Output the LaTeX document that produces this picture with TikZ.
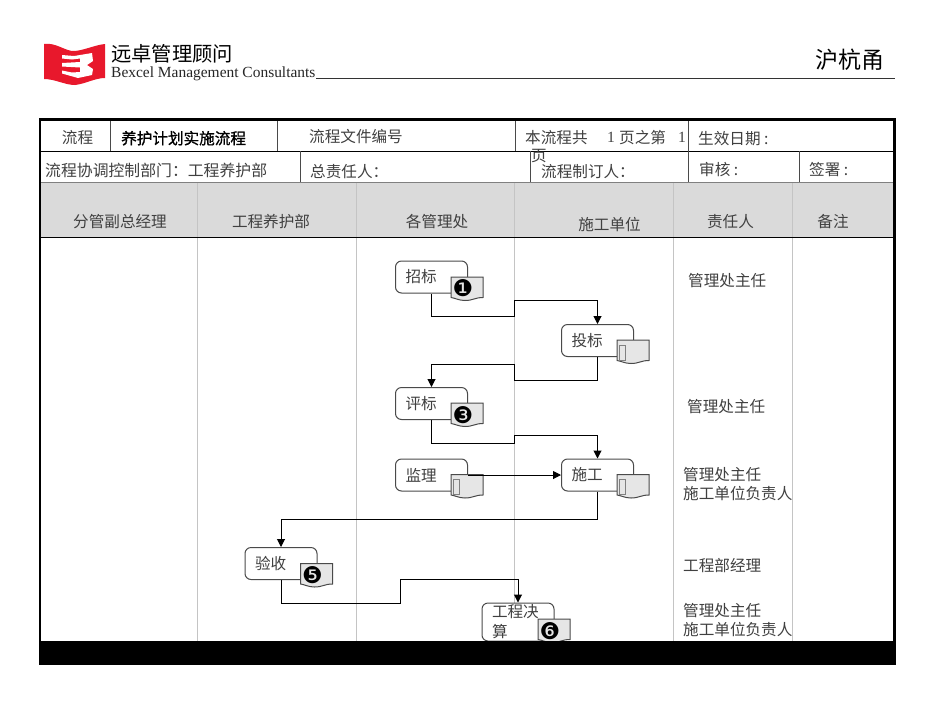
\documentclass[tikz,border=0pt]{standalone}
\usepackage{fontspec}
\setmainfont{Liberation Serif}
\newfontfamily\cjk{Noto Sans CJK SC}
\newfontfamily\djvfont{DejaVu Sans}
\usetikzlibrary{arrows.meta}
\definecolor{hdr}{HTML}{DADADA}
\definecolor{lane}{HTML}{C4C4C4}
\definecolor{docfill}{HTML}{E6E6E6}
\definecolor{linec}{HTML}{4A4A4A}
\definecolor{txt}{HTML}{404040}
\definecolor{logored}{HTML}{E8182C}
\newcommand{\docpath}[2]{%
  \draw[docline,shift={(#1,#2)}] (0,0) -- (32,0) -- (32,20.5) .. controls (24,20.5) and (22,23.5) .. (14,23.5) .. controls (8,23.5) and (4,21) .. (0,20.5) -- cycle;}
\newcommand{\lowered}[1]{\raisebox{-1.3pt}{#1}}
\tikzset{
  x=1pt,y=-1pt,
  txtl/.style={font=\cjk\fontsize{15.6}{17}\selectfont,text=txt,inner sep=0pt,anchor=west,yshift=-0.7pt},
  txtc/.style={font=\cjk\fontsize{15.6}{17}\selectfont,text=txt,inner sep=0pt,anchor=center,yshift=-0.7pt},
  tline/.style={draw=black,line width=1pt},
  laneline/.style={draw=lane,line width=0.9pt},
  procbox/.style={draw=linec,fill=white,rounded corners=6pt,line width=1pt,minimum width=72pt,minimum height=32pt,inner sep=0pt,
    font=\cjk\fontsize{15.6}{20}\selectfont,text=txt,text width=52pt,align=left},
  docline/.style={draw=linec,fill=docfill,line width=1pt},
  badge/.style={font=\djvfont\fontsize{23}{23}\selectfont,inner sep=0pt,text=black},
  tofu/.style={draw=gray,fill=docfill,line width=0.8pt,minimum width=6.5pt,minimum height=15pt,inner sep=0pt},
  flow/.style={draw=black,line width=1pt,rounded corners=0pt},
  flowa/.style={flow,-{Triangle[length=8pt,width=8pt]}},
}
\begin{document}
\begin{tikzpicture}
\useasboundingbox (0,0) rectangle (950,713);
\fill[white] (0,0) rectangle (950,713);
% logo
\fill[logored] (44,44) .. controls (56,42) and (66,52) .. (75,51) .. controls (85,50) and (95,45) .. (105,44) -- (105,78) .. controls (95,78) and (85,84) .. (75,85) .. controls (65,85) and (55,79) .. (44,79) -- cycle;
\fill[white] (62,55) -- (74,56) -- (92,53) -- (93,61) -- (87,65) -- (93,69) -- (92,75) -- (78,78) -- (62,73.5) -- (62,70.5) -- (72,72.5) -- (80,72) -- (80,67.5) -- (62,66.5) -- (62,63) -- (80,62) -- (80,58.5) -- (72,59.5) -- (62,58.5) -- cycle;
\node[font=\cjk\fontsize{20.3}{22}\selectfont,text=black,inner sep=0pt,anchor=west] (logocn) at (111,54) {远卓管理顾问};
\node[font=\fontsize{15.45}{17}\selectfont,text=black!85,inner sep=0pt,anchor=west] (logoen) at (111,73.5) {Bexcel Management Consultants};
\coordinate (rulel) at (316,78.5);
\coordinate (ruler) at (895,78.5);
\draw[draw=black!80,line width=1pt] (rulel) -- (ruler);
\node[font=\cjk\fontsize{23}{25}\selectfont,text=black,inner sep=0pt] (region) at (849.5,60) {沪杭甬};
% header band
\fill[hdr] (40,182) rectangle (893,237);
% lanes
\foreach \lx in {197.5,356,514.5,673,792}{\draw[laneline] (\lx,182) -- (\lx,641);}
% table lines
\draw[tline] (40,151) -- (893,151);
\draw[draw=gray,line width=1pt] (40,182) -- (893,182);
\draw[tline] (40,237.5) -- (893,237.5);
\draw[draw=linec,line width=1pt] (110.5,120) -- (110.5,151);
\draw[draw=linec,line width=1pt] (277,120) -- (277,151);
\draw[draw=linec,line width=1pt] (515,120) -- (515,151);
\draw[draw=linec,line width=1pt] (688.5,120) -- (688.5,182);
\draw[draw=linec,line width=1pt] (300.5,151) -- (300.5,182);
\draw[draw=linec,line width=1pt] (530.5,151) -- (530.5,182);
\draw[draw=linec,line width=1pt] (799,151) -- (799,182);
% table text
\node[txtc] (t1) at (77.5,137) {流程};
\node[txtl,text=black] (t2) at (121,137.5) {\addfontfeature{FakeBold=1}养护计划实施流程};
\node[txtl] (t3) at (309,135.5) {流程文件编号};
\node[txtl] (t4) at (525,137) {本流程共};
\node[font=\fontsize{15.6}{17}\selectfont,text=txt,inner sep=0pt,anchor=west] (t4b) at (607,137) {1};
\node[txtl] (t4c) at (619,137) {页之第};
\node[font=\fontsize{15.6}{17}\selectfont,text=txt,inner sep=0pt,anchor=west] (t4d) at (678,137) {1};
\node[txtl] (t5) at (698,137.5) {生效日期 :};
\node[txtl,font=\cjk\fontsize{15.85}{17}\selectfont] (t6) at (45,170) {流程协调控制部门：工程养护部};
\node[txtl] (t7) at (310,170.5) {总责任人：};
\node[txtl] (t8) at (531,155.5) {页};
\node[txtl] (t9) at (541,170.5) {流程制订人：};
\node[txtl] (t10) at (699,169) {审核 :};
\node[txtl] (t11) at (809,169) {签署 :};
\node[txtc] (h1) at (120,221) {分管副总经理};
\node[txtc] (h2) at (271,220.5) {工程养护部};
\node[txtc] (h3) at (437,220.5) {各管理处};
\node[txtc] (h4) at (609.5,223.5) {施工单位};
\node[txtc] (h5) at (730.5,220.5) {责任人};
\node[txtc] (h6) at (833,221) {备注};
% responsible
\node[txtl] (r1) at (688,279.5) {管理处主任};
\node[txtl] (r2) at (687,406) {管理处主任};
\node[txtl] (r3) at (683,474) {管理处主任};
\node[txtl] (r4) at (683,492.5) {施工单位负责人};
\node[txtl] (r5) at (683,564.5) {工程部经理};
\node[txtl] (r6) at (683,610) {管理处主任};
\node[txtl] (r7) at (683,628.5) {施工单位负责人};
% connectors below boxes
\coordinate (a1) at (514.5,316.5); \coordinate (a2) at (514.5,300);
\coordinate (b1) at (514.5,380); \coordinate (b2) at (514.5,364);
\coordinate (c1) at (514.5,443.5); \coordinate (c2) at (514.5,435);
\coordinate (d1) at (281,519);
\coordinate (e1) at (400,603.5); \coordinate (e2) at (400,579);
% boxes
\node[procbox] (zb) at (431.5,277) {\lowered{招标}};
\node[procbox] (tb) at (597.5,340.5) {\lowered{投标}};
\node[procbox] (pb) at (431.5,403.5) {\lowered{评标}};
\node[procbox] (jl) at (431.5,475) {\lowered{监理}};
\node[procbox] (sg) at (597.5,475) {\lowered{施工}};
\node[procbox] (ys) at (281,563.5) {\lowered{验收}};
\node[procbox,minimum height=38pt] (js) at (518,622) {\lowered{工程决}\\\lowered{算}};
% flows
\draw[flowa] (zb.south) |- (a1) -- (a2) -| (tb.north);
\draw[flowa] (tb.south) |- (b1) -- (b2) -| (pb.north);
\draw[flowa] (pb.south) |- (c1) -- (c2) -| (sg.north);
\draw[flowa] (sg.south) |- (d1) -- (ys.north);
\draw[flowa] (ys.south) |- (e1) -- (e2) -| (js.north);
% document marks
\docpath{451}{277}
\docpath{617}{340}
\docpath{451}{403}
\docpath{451}{474.5}
\docpath{617}{474.5}
\docpath{300.5}{563.5}
\docpath{538}{619}
\draw[flowa] (jl.east) -- (sg.west);
\node[badge] (n1) at (463,288.5) {❶};
\node[badge] (n3) at (463,415) {❸};
\node[badge] (n5) at (312.5,575) {❺};
\node[badge] (n6) at (550,631) {❻};
\node[tofu] (g2) at (622.5,352.5) {};
\node[tofu] (g3) at (456.5,487) {};
\node[tofu] (g4) at (622.5,487) {};
% frame
\fill[black] (38.5,641) rectangle (896,665);
\draw[draw=black,line width=2.5pt] (39,119.5) -- (895,119.5);
\draw[draw=black,line width=2.5pt] (40,118) -- (40,665);
\draw[draw=black,line width=2.5pt] (894.5,118) -- (894.5,665);
\end{tikzpicture}
\end{document}
